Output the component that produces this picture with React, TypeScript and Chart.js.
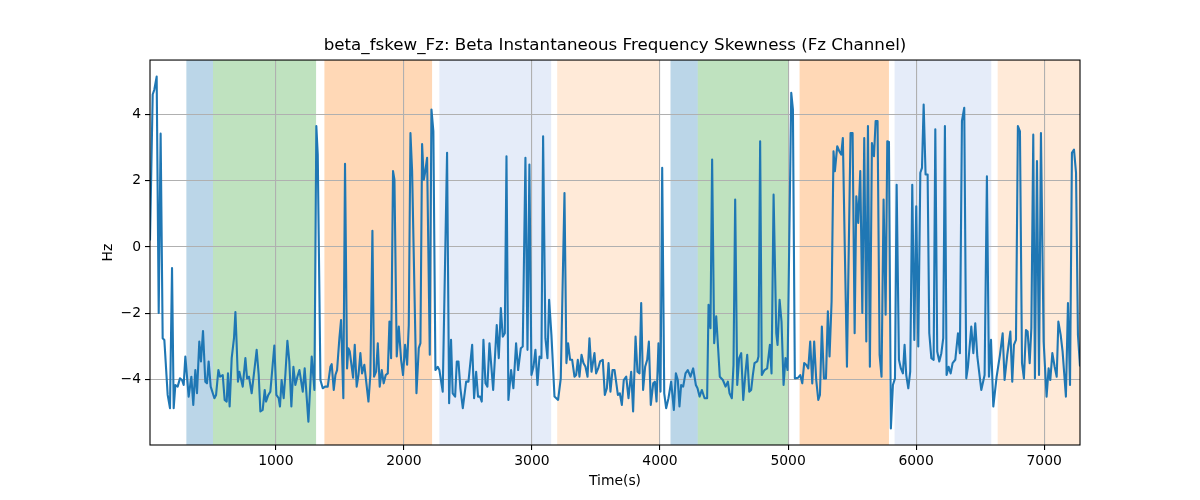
import { useEffect, useRef } from 'react';
import { Chart, registerables } from 'chart.js';

Chart.register(...registerables);

// time axis (s) and skewness (Hz)
const timeValues = [
    17, 38, 51, 69, 85, 100, 116, 129, 155, 173, 189, 202, 215, 233, 251, 267, 280, 293, 319, 340,
    355, 371, 384, 402, 415, 431, 449, 462, 475, 491, 520, 533, 551, 564, 585, 600, 616, 626, 639, 655,
    673, 684, 694, 704, 715, 741, 762, 775, 790, 811, 835, 850, 866, 879, 897, 913, 923, 941, 957, 975,
    988, 1004, 1022, 1032, 1045, 1061, 1074, 1090, 1105, 1121, 1137, 1152, 1168, 1184, 1210, 1225, 1254, 1280, 1301, 1316,
    1327, 1348, 1366, 1384, 1405, 1426, 1436, 1452, 1465, 1478, 1496, 1509, 1527, 1540, 1556, 1566, 1577, 1603, 1616, 1631,
    1645, 1660, 1673, 1691, 1707, 1723, 1738, 1754, 1767, 1783, 1796, 1811, 1827, 1842, 1858, 1874, 1887, 1900, 1915, 1926,
    1944, 1960, 1978, 1993, 2009, 2025, 2038, 2051, 2064, 2098, 2116, 2129, 2142, 2155, 2165, 2181, 2202, 2215, 2230, 2246,
    2264, 2277, 2303, 2337, 2353, 2368, 2381, 2400, 2413, 2426, 2441, 2460, 2486, 2504, 2533, 2548, 2564, 2579, 2595, 2608,
    2621, 2637, 2652, 2668, 2684, 2697, 2712, 2725, 2741, 2757, 2772, 2788, 2801, 2816, 2837, 2855, 2876, 2892, 2913, 2928,
    2949, 2965, 2980, 2996, 3012, 3027, 3043, 3059, 3074, 3087, 3105, 3121, 3134, 3152, 3176, 3204, 3225, 3254, 3269, 3282,
    3298, 3314, 3332, 3345, 3358, 3371, 3387, 3402, 3418, 3434, 3449, 3465, 3488, 3501, 3517, 3532, 3553, 3569, 3585, 3598,
    3613, 3629, 3645, 3671, 3686, 3702, 3717, 3736, 3754, 3775, 3790, 3809, 3824, 3840, 3853, 3868, 3884, 3900, 3913, 3928,
    3947, 3960, 3973, 3988, 4004, 4017, 4033, 4048, 4066, 4087, 4108, 4124, 4139, 4152, 4165, 4181, 4199, 4217, 4238, 4259,
    4280, 4293, 4309, 4327, 4348, 4368, 4379, 4394, 4407, 4423, 4439, 4467, 4491, 4512, 4530, 4543, 4561, 4574, 4587, 4603,
    4618, 4634, 4650, 4668, 4681, 4697, 4712, 4725, 4738, 4759, 4769, 4782, 4795, 4816, 4837, 4858, 4871, 4887, 4908, 4918,
    4934, 4949, 4965, 4980, 4996, 5025, 5038, 5053, 5079, 5095, 5111, 5126, 5142, 5158, 5173, 5189, 5204, 5220, 5236, 5249,
    5264, 5280, 5296, 5311, 5324, 5340, 5355, 5366, 5384, 5400, 5415, 5428, 5444, 5460, 5488, 5504, 5520, 5533, 5548, 5564,
    5580, 5595, 5611, 5624, 5639, 5655, 5671, 5684, 5699, 5715, 5730, 5746, 5762, 5775, 5788, 5803, 5819, 5835, 5848, 5866,
    5881, 5897, 5910, 5923, 5939, 5954, 5970, 5986, 6001, 6017, 6033, 6046, 6059, 6074, 6090, 6103, 6119, 6137, 6150, 6165,
    6181, 6197, 6212, 6225, 6238, 6254, 6270, 6285, 6306, 6327, 6342, 6358, 6376, 6392, 6405, 6431, 6447, 6462, 6478, 6509,
    6535, 6553, 6569, 6585, 6603, 6629, 6655, 6676, 6691, 6712, 6736, 6751, 6764, 6780, 6795, 6811, 6827, 6842, 6858, 6871,
    6887, 6900, 6915, 6928, 6944, 6960, 6975, 6996, 7019, 7035, 7048, 7064, 7082, 7098, 7111, 7129, 7144, 7170, 7186, 7202,
    7217, 7233, 7249, 7264, 7280,
];

const skewValues = [
    0.2, 4.6, 4.75, 5.14, -1.99, 3.42, -2.75, -2.8, -4.46, -4.86, -0.63, -4.86, -4.16, -4.21, -3.96, -4.01, -4.16, -3.3, -4.51, -3.91,
    -4.76, -3.71, -4.41, -2.85, -3.45, -2.53, -4.06, -4.11, -3.45, -4.21, -4.56, -4.46, -3.71, -3.91, -3.86, -4.61, -4.66, -3.81, -4.81, -3.35,
    -2.75, -1.96, -2.95, -4.06, -3.76, -4.21, -3.35, -3.96, -3.91, -4.41, -3.61, -3.1, -3.86, -4.96, -4.91, -4.31, -4.66, -4.46, -4.36, -3.55,
    -2.97, -4.46, -4.56, -4.81, -4.01, -4.56, -3.86, -2.83, -3.45, -4.81, -3.61, -4.16, -3.91, -3.71, -4.36, -3.66, -5.27, -3.3, -4.31, 3.65,
    2.79, -4.01, -4.26, -4.21, -4.21, -3.61, -3.53, -4.31, -3.86, -3.71, -2.75, -2.2, -4.56, 2.51, -3.66, -3.05, -3.15, -3.94, -2.95, -4.21,
    -3.86, -3.2, -3.81, -3.55, -4.11, -4.66, -3.86, 0.49, -3.91, -3.76, -2.9, -4.21, -3.71, -4.11, -3.86, -3.81, -2.25, -3.35, 2.29, 2.03,
    -3.3, -2.4, -3.4, -3.86, -2.95, -3.55, -2.35, 3.44, 2.29, -4.41, -3.05, -2.9, 3.11, 2.03, 2.24, 2.69, -3.25, 4.15, 3.49, -3.71,
    -3.61, -3.71, -4.36, 2.84, -4.71, -2.8, -4.41, -4.51, -3.45, -3.45, -4.26, -4.86, -4.06, -4.06, -2.95, -4.56, -3.76, -4.51, -4.51, -4.66,
    -2.8, -4.11, -4.21, -2.9, -3.66, -4.31, -3.25, -2.35, -3.35, -1.84, -2.7, -2.6, 2.74, -4.61, -3.71, -4.26, -2.9, -3.71, -3.05, -3.0,
    2.69, -3.1, 2.49, -3.86, -3.61, -3.1, -4.16, -3.3, -3.35, 3.34, -2.75, -3.35, -1.59, -2.65, -4.51, -4.61, -3.96, 1.63, -3.5, -2.9,
    -3.4, -3.4, -3.91, -3.86, -3.4, -3.91, -3.25, -3.5, -3.61, -3.91, -2.75, -3.76, -3.2, -3.81, -3.66, -3.45, -3.4, -4.46, -4.26, -3.5,
    -4.36, -3.71, -3.71, -4.46, -4.41, -4.76, -4.01, -3.91, -4.56, -3.76, -4.96, -2.7, -3.76, -3.81, -1.69, -4.31, -3.61, -3.4, -2.85, -4.76,
    -4.11, -4.06, -4.66, -2.9, -4.36, 2.39, -4.41, -4.86, -4.56, -4.06, -4.91, -3.81, -4.01, -4.81, -4.16, -4.21, -3.81, -3.71, -3.91, -3.66,
    -4.16, -4.26, -4.51, -4.31, -4.56, -4.56, -1.74, -2.45, 2.64, -2.9, -2.09, -3.91, -4.01, -4.21, -4.06, -4.41, -4.56, -3.55, 1.43, -4.16,
    -3.35, -3.2, -4.61, -3.76, -3.25, -4.36, -4.31, -3.86, -3.5, -3.45, -3.3, 3.19, -3.86, -3.71, -3.66, -2.95, -3.81, 1.58, -2.6, -2.95,
    -1.59, -2.25, -4.16, -3.35, -3.71, 4.65, 4.15, -3.96, -3.94, -3.86, -4.11, -3.5, -3.55, -3.66, -2.85, -4.11, -2.85, -4.01, -4.61, -4.46,
    -2.4, -3.96, -3.96, -1.94, -3.3, -1.64, 2.89, 2.29, 3.04, 2.89, 2.79, 3.29, -0.23, -3.61, 3.44, 3.44, -2.6, 1.53, 0.73, 2.29,
    -1.99, 3.29, -2.85, 3.65, -3.61, 3.14, 2.74, 3.8, 3.8, -3.25, -3.91, 1.43, -2.04, 3.19, 3.17, -5.47, -4.16, -3.96, 1.88, -3.4,
    -3.66, -3.81, -2.95, -3.86, -4.26, -3.76, 1.88, -2.8, 1.23, -3.0, 2.24, 2.39, 4.3, 2.19, 2.19, -2.6, -3.35, -3.4, 3.55, -3.15,
    -3.45, -3.2, -2.75, 3.65, -3.86, -3.61, -3.81, -3.5, -3.4, -2.6, -3.2, 3.8, 4.2, -3.96, -3.61, -2.4, -3.2, -2.3, -3.3, -4.31,
    -3.86, 2.13, -3.91, -2.8, -4.81, -3.91, -3.25, -2.6, -4.01, -3.25, -2.55, -4.06, -2.95, -2.8, 3.65, 3.49, -3.5, -3.96, -2.5, -2.55,
    -3.5, -2.45, 3.39, -3.96, 2.59, -3.86, 3.44, -2.85, -4.51, -3.66, -4.01, -3.2, -3.61, -3.91, -2.25, -2.65, -3.15, -4.51, -1.69, -4.16,
    2.84, 2.94, 2.24, -2.65, -3.6,
];

// shaded segments along the time axis
const bandStarts = [301, 509, 1379, 2277, 3197, 4082, 4295, 5090, 5832, 6637];
const bandEnds = [509, 1314, 2220, 3150, 3998, 4295, 5006, 5788, 6587, 7280];
const bandColors = [
    'rgba(31,119,180,0.3)', 'rgba(44,160,44,0.3)', 'rgba(255,127,14,0.3)', 'rgba(110,150,220,0.18)', 'rgba(255,127,14,0.16)',
    'rgba(31,119,180,0.3)', 'rgba(44,160,44,0.3)', 'rgba(255,127,14,0.3)', 'rgba(110,150,220,0.18)', 'rgba(255,127,14,0.16)',
];

const xTicks = [1000, 2000, 3000, 4000, 5000, 6000, 7000];
const yTicks = [-4, -2, 0, 2, 4];

const FONT = 'DejaVu Sans';

const bandsPlugin = {
    id: 'bands',
    beforeDraw(chart: any) {
        const { ctx, chartArea, scales } = chart;
        ctx.save();
        ctx.fillStyle = '#ffffff';
        ctx.fillRect(0, 0, chart.width, chart.height);
        bandStarts.forEach((start, i) => {
            const x0 = Math.max(scales.x.getPixelForValue(start), chartArea.left);
            const x1 = Math.min(scales.x.getPixelForValue(bandEnds[i]), chartArea.right);
            ctx.fillStyle = bandColors[i];
            ctx.fillRect(x0, chartArea.top, x1 - x0, chartArea.bottom - chartArea.top);
        });
        ctx.restore();
    }
};

const framePlugin = {
    id: 'frame',
    afterDatasetsDraw(chart: any) {
        const { ctx, chartArea } = chart;
        ctx.save();
        ctx.strokeStyle = '#000000';
        ctx.lineWidth = 1.1;
        ctx.strokeRect(chartArea.left, chartArea.top, chartArea.right - chartArea.left, chartArea.bottom - chartArea.top);
        ctx.restore();
    }
};

export default function App() {
    const canvasRef = useRef<HTMLCanvasElement>(null);

    useEffect(() => {
        if (!canvasRef.current) return;
        const chart = new Chart(canvasRef.current, {
            type: 'line',
            data: {
                datasets: [{
                    label: 'beta_fskew_Fz',
                    data: timeValues.map((t, i) => ({ x: t, y: skewValues[i] })),
                    borderColor: '#1f77b4',
                    borderWidth: 2.1,
                    borderJoinStyle: 'round',
                    pointRadius: 0,
                    fill: false,
                    tension: 0
                }]
            },
            options: {
                responsive: false,
                animation: false,
                layout: { padding: { left: 0, right: 120, top: 0, bottom: 0 } },
                plugins: {
                    legend: { display: false },
                    tooltip: { enabled: false },
                    title: {
                        display: true,
                        text: 'beta_fskew_Fz: Beta Instantaneous Frequency Skewness (Fz Channel)',
                        color: '#000',
                        fullSize: false,
                        font: { family: FONT, size: 16.7, weight: 'normal' },
                        padding: { top: 36, bottom: 4 }
                    }
                },
                scales: {
                    x: {
                        type: 'linear',
                        min: timeValues[0],
                        max: timeValues[timeValues.length - 1],
                        afterBuildTicks: (scale: any) => { scale.ticks = xTicks.map(v => ({ value: v })); },
                        afterFit: (scale: any) => { scale.height = 55; },
                        ticks: {
                            color: '#000',
                            font: { family: FONT, size: 13.9 },
                            padding: 3,
                            maxRotation: 0,
                            callback: (v: any) => String(v)
                        },
                        grid: { color: '#b0b0b0', lineWidth: 1.1, tickColor: '#000', tickLength: 5, tickWidth: 1.1 },
                        border: { display: false },
                        title: {
                            display: true,
                            text: 'Time(s)',
                            color: '#000',
                            font: { family: FONT, size: 13.9 },
                            padding: { top: 0, bottom: 10.5 }
                        }
                    },
                    y: {
                        type: 'linear',
                        min: -5.97,
                        max: 5.64,
                        afterBuildTicks: (scale: any) => { scale.ticks = yTicks.map(v => ({ value: v })); },
                        afterFit: (scale: any) => { scale.width = 150; },
                        ticks: {
                            color: '#000',
                            font: { family: FONT, size: 13.9 },
                            padding: 4,
                            callback: (v: any) => String(v).replace('-', '\u2212')
                        },
                        grid: { color: '#b0b0b0', lineWidth: 1.1, tickColor: '#000', tickLength: 5, tickWidth: 1.1 },
                        border: { display: false },
                        title: {
                            display: true,
                            text: 'Hz',
                            color: '#000',
                            font: { family: FONT, size: 13.9 },
                            padding: { top: 100, bottom: 0 }
                        }
                    }
                }
            },
            plugins: [bandsPlugin, framePlugin]
        });
        return () => chart.destroy();
    }, []);

    return (
        <div style={{ position: 'absolute', left: 0, top: 0, width: 1200, height: 500, background: '#fff' }}>
            <canvas ref={canvasRef} width={1200} height={500} style={{ display: 'block' }}></canvas>
        </div>
    );
}
